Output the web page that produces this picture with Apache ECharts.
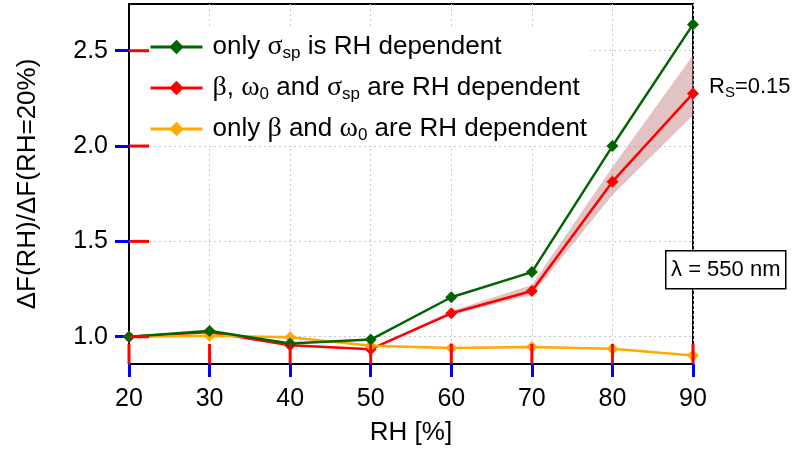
<!DOCTYPE html>
<html>
<head>
<meta charset="utf-8">
<script src="https://cdn.jsdelivr.net/npm/echarts@6/dist/echarts.min.js"></script>
<style>
  html, body { margin: 0; padding: 0; background: #fff; }
  #chart { width: 795px; height: 452px; }
</style>
</head>
<body>
<div id="chart"></div>
<script>
// Relative humidity steps (%)
const rhLevels = ['20', '30', '40', '50', '60', '70', '80', '90'];

// ΔF(RH)/ΔF(RH=20%) for each scenario
const onlySigmaSp   = [1.00, 1.030, 0.965, 0.985, 1.207, 1.339, 2.000, 2.638];
const allDependent  = [1.00, 1.025, 0.955, 0.935, 1.123, 1.240, 1.813, 2.276];
const onlyBetaOmega = [1.00, 1.005, 0.997, 0.953, 0.941, 0.946, 0.937, 0.902];

// Uncertainty envelope of the fully RH-dependent case
const bandLower = [1.00, 1.015, 0.950, 0.930, 1.115, 1.219, 1.743, 2.161];
const bandUpper = [1.00, 1.040, 0.962, 0.940, 1.135, 1.271, 1.890, 2.476];

// Y axis tick values and range
const yTicks = [1.0, 1.5, 2.0, 2.5];
const Y_MIN = 0.857;
const Y_MAX = 2.745;

const NAME_GREEN  = 'only σsp is RH dependent';
const NAME_RED    = 'β, ω0 and σsp are RH dependent';
const NAME_ORANGE = 'only β and ω0 are RH dependent';

const legendRich = {
  n:   { fontFamily: 'Liberation Sans', fontSize: 26, color: '#000', lineHeight: 30, verticalAlign: 'middle' },
  g:   { fontFamily: 'Liberation Serif', fontSize: 28, color: '#000', lineHeight: 30, verticalAlign: 'middle' },
  sub: { fontFamily: 'Liberation Sans', fontSize: 17, color: '#000', verticalAlign: 'bottom' }
};
const legendLabels = {};
legendLabels[NAME_GREEN]  = '{n|only }{g|σ}{sub|sp}{n| is RH dependent}';
legendLabels[NAME_RED]    = '{g|β}{n|, }{g|ω}{sub|0}{n| and }{g|σ}{sub|sp}{n| are RH dependent}';
legendLabels[NAME_ORANGE] = '{n|only }{g|β}{n| and }{g|ω}{sub|0}{n| are RH dependent}';

const chart = echarts.init(document.getElementById('chart'), null, { renderer: 'canvas' });

const lineSeries = (name, data, color) => ({
  name: name,
  type: 'line',
  data: data,
  symbol: 'diamond',
  symbolSize: 12,
  lineStyle: { color: color, width: 2.5 },
  itemStyle: { color: color },
  z: 5
});

// Text annotations: RS label and wavelength box
const annotations = [
  {
    type: 'text',
    left: 709,
    top: 76,
    style: {
      text: '{a|R}{s|S}{a|=0.15}',
      rich: {
        a: { fontFamily: 'Liberation Sans', fontSize: 22, color: '#000', lineHeight: 26, verticalAlign: 'middle' },
        s: { fontFamily: 'Liberation Sans', fontSize: 15, color: '#000', verticalAlign: 'bottom' }
      }
    },
    z: 20
  },
  {
    type: 'group',
    left: 665,
    top: 250,
    z: 20,
    children: [
      {
        type: 'rect',
        shape: { x: 0, y: 0, width: 120, height: 38 },
        style: { fill: '#fff', stroke: '#000', lineWidth: 1.5 }
      },
      {
        type: 'text',
        x: 60, y: 19,
        style: {
          text: 'λ = 550 nm',
          fontFamily: 'Liberation Sans',
          fontSize: 22,
          fill: '#000',
          align: 'center',
          verticalAlign: 'middle'
        }
      }
    ]
  }
];

chart.setOption({
  animation: false,
  backgroundColor: '#fff',
  textStyle: { fontFamily: 'Liberation Sans' },
  grid: {
    left: 129, right: 102, top: 4, bottom: 88,
    show: true, borderColor: '#000', borderWidth: 2, backgroundColor: 'transparent'
  },
  legend: {
    data: [NAME_GREEN, NAME_RED, NAME_ORANGE],
    orient: 'vertical',
    left: 140, top: 27,
    padding: [6, 3, 2, 9],
    itemWidth: 52,
    itemHeight: 18,
    itemGap: 12,
    backgroundColor: '#fff',
    selectedMode: false,
    lineStyle: { width: 3 },
    formatter: name => legendLabels[name],
    textStyle: { rich: legendRich, padding: [0, 0, 0, 5] }
  },
  xAxis: {
    type: 'category',
    data: rhLevels,
    boundaryGap: false,
    name: 'RH [%]',
    nameLocation: 'middle',
    nameGap: 56,
    nameTextStyle: { fontSize: 26, color: '#000', fontFamily: 'Liberation Sans' },
    axisLine: { lineStyle: { color: '#000', width: 2 } },
    axisTick: { show: true, length: 13, lineStyle: { color: '#00f', width: 3 } },
    axisLabel: { fontSize: 25, color: '#000', margin: 23, fontFamily: 'Liberation Sans', interval: 0 },
    splitLine: { show: true, interval: 0, lineStyle: { color: '#c8c8c8', type: [2, 3], width: 1 } }
  },
  yAxis: {
    type: 'value',
    min: Y_MIN,
    max: Y_MAX,
    name: 'ΔF(RH)/ΔF(RH=20%)',
    nameLocation: 'middle',
    nameGap: 88,
    nameTextStyle: { fontSize: 26, color: '#000', fontFamily: 'Liberation Sans' },
    axisLine: { show: true, lineStyle: { color: '#000', width: 2 } },
    axisTick: { show: true, length: 14, customValues: yTicks, lineStyle: { color: '#00f', width: 3 } },
    axisLabel: {
      fontSize: 25, color: '#000', margin: 21, fontFamily: 'Liberation Sans',
      customValues: yTicks,
      formatter: v => v.toFixed(1)
    },
    splitLine: { show: true, lineStyle: { color: '#c8c8c8', type: [2, 3], width: 1 } }
  },
  series: [
    {
      name: 'bandBase',
      type: 'line',
      data: bandLower,
      stack: 'band',
      symbol: 'none',
      silent: true,
      lineStyle: { opacity: 0 },
      z: 2
    },
    {
      name: 'bandSpread',
      type: 'line',
      data: bandUpper.map((u, i) => u - bandLower[i]),
      stack: 'band',
      symbol: 'none',
      silent: true,
      lineStyle: { opacity: 0 },
      areaStyle: { color: 'rgba(190, 120, 120, 0.45)', opacity: 1 },
      z: 2
    },
    lineSeries(NAME_RED, allDependent, '#ff0000'),
    lineSeries(NAME_ORANGE, onlyBetaOmega, '#ffaa00'),
    lineSeries(NAME_GREEN, onlySigmaSp, '#006400')
  ]
});

// Tick marks drawn inward, positioned through the grid's coordinate conversion
const tickMarks = [];
yTicks.forEach(v => {
  const p = chart.convertToPixel({ gridIndex: 0 }, [0, v]);
  tickMarks.push({
    type: 'line', z: 30,
    shape: { x1: p[0], y1: p[1], x2: p[0] + 20, y2: p[1] },
    style: { stroke: '#f00', lineWidth: 3 }
  });
});
rhLevels.forEach((c, i) => {
  const p = chart.convertToPixel({ gridIndex: 0 }, [i, Y_MIN]);
  tickMarks.push({
    type: 'line', z: 30,
    shape: { x1: p[0], y1: p[1], x2: p[0], y2: p[1] - 20 },
    style: { stroke: '#f00', lineWidth: 3 }
  });
});
chart.setOption({ graphic: annotations.concat(tickMarks) });
</script>
</body>
</html>
